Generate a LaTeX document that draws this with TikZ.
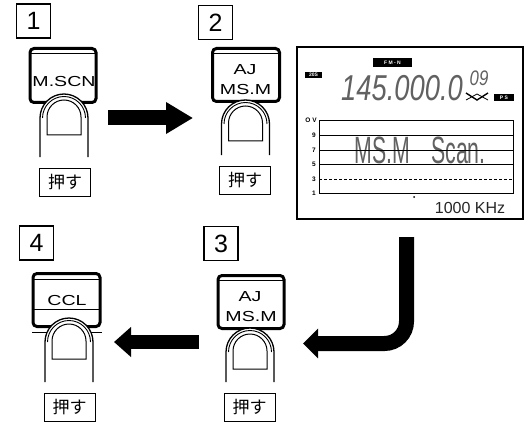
\documentclass[tikz,border=0pt]{standalone}
\usepackage{fontspec}
\setmainfont{Liberation Sans}
\newfontfamily\cjk{Noto Sans CJK JP}
\usetikzlibrary{arrows.meta}
\tikzset{
  stepbox/.style={draw, line width=1.1pt, minimum width=34pt, minimum height=34pt, inner sep=0pt, font=\fontsize{25}{25}\selectfont},
  pushbox/.style={draw, line width=1pt, minimum width=51pt, minimum height=28pt, inner sep=0pt, font=\cjk\fontsize{17}{17}\selectfont},
  keycap/.style={draw, line width=3pt, rounded corners=4pt, fill=white, inner sep=0pt},
  keytext/.style={transform shape, xscale=1.35, inner sep=0pt, font=\fontsize{14.5}{14.5}\selectfont},
  blockarrow/.style={line width=15pt, -{Triangle[length=27pt,width=30pt]}},
  tagbox/.style={fill=black, text=white, inner sep=0pt, font=\bfseries\fontsize{5}{5}\selectfont},
  scalenum/.style={inner sep=0pt, font=\bfseries\fontsize{6.5}{6.5}\selectfont},
  lcdtext/.style={inner sep=0pt, transform shape, text=black!62}
}
\begin{document}
\begin{tikzpicture}[x=1pt, y=1pt]
    \useasboundingbox (0,0) rectangle (529,-422);

    % Step numbers
    \node[stepbox] (step1) at (33.5,-21) {1};
    \node[stepbox] (step2) at (215.5,-22.5) {2};
    \node[stepbox] (step3) at (221,-243.5) {3};
    \node[stepbox] (step4) at (36.5,-243) {4};

    % Keys
    \node[keycap, minimum width=66pt, minimum height=54pt] (key1) at (63,-75.5) {};
    \node[keycap, minimum width=67pt, minimum height=53pt] (key2) at (246,-75) {};
    \node[keycap, minimum width=66pt, minimum height=53pt] (key3) at (251,-302) {};
    \node[keycap, minimum width=67pt, minimum height=53pt] (key4) at (66.5,-300) {};

    \draw (31,-53) -- (95,-53);
    \draw (214,-53) -- (278,-53);
    \draw (219,-280) -- (283,-280);
    \draw[line width=0.8pt] (34,-279) -- (99,-279);
    \draw[line width=0.8pt] (34,-309) -- (99,-309);
    \draw (32,-332) -- (102,-332);

    \node[keytext] (name1) at (64,-82) {M.SCN};
    \node[keytext] (name2a) at (245,-70) {AJ};
    \node[keytext] (name2b) at (245.5,-90) {MS.M};
    \node[keytext] (name3a) at (250,-297) {AJ};
    \node[keytext] (name3b) at (251,-317) {MS.M};
    \node[keytext] (name4) at (67,-301) {CCL};

    % Fingers
    \foreach \x/\y/\z in {64/-94/-157, 245.5/-100/-155, 250/-328/-382, 69/-318/-382}
    {
      \fill[white] (\x-24,\z) -- (\x-24,\y-24) arc (180:0:24) -- (\x+24,\z) -- cycle;
      \draw[line width=1.3pt] (\x-24,\z) -- (\x-24,\y-24) arc (180:0:24) -- (\x+24,\z);
      \draw[line width=0.9pt] (\x-21.5,\y-24) arc (180:0:21.5);
      \draw[line width=1pt] (\x-17,\y-41) -- (\x-17,\y-23) arc (180:0:17) -- (\x+17,\y-41) -- cycle;
    }

    % Labels
    \node[pushbox] (push1) at (65,-182) {押す};
    \node[pushbox] (push2) at (245,-180) {押す};
    \node[pushbox] (push3) at (249.5,-407.5) {押す};
    \node[pushbox] (push4) at (69.5,-407.5) {押す};

    % Block arrows
    \coordinate (from1) at (108,-118);
    \coordinate (to1) at (193,-118);
    \coordinate (from2) at (406.5,-237);
    \coordinate (bend2) at (406.5,-343.5);
    \coordinate (to2) at (303,-343.5);
    \coordinate (from3) at (199,-342);
    \coordinate (to3) at (114,-342);
    \draw[blockarrow] (from1) -- (to1);
    \draw[line width=15pt, rounded corners=22pt, -{Triangle[length=15pt,width=29pt]}] (from2) -- (bend2) -- (to2);
    \draw[blockarrow, line width=14pt, -{Triangle[length=17pt,width=29pt]}] (from3) -- (to3);

    % Display
    \node[draw, line width=1.1pt, minimum width=226pt, minimum height=172pt] (lcd) at (410,-133) {};
    \node[tagbox, minimum width=39pt, minimum height=9pt] (mode) at (392.5,-63) {F M - N};
    \node[tagbox, minimum width=17pt, minimum height=6pt] (tone) at (313.5,-75) {20S};
    \node[tagbox, minimum width=20pt, minimum height=7pt] (ps) at (504,-98) {P S};
    \node[lcdtext, xscale=0.76, font=\itshape\fontsize{36}{36}\selectfont] (freq) at (402,-88) {145.000.0};
    \node[lcdtext, xscale=0.8, font=\itshape\fontsize{21}{21}\selectfont] (memch) at (479,-78) {09};
    \draw[line width=1.4pt] (466,-93) -- (477,-100) -- (488,-93);
    \draw[line width=0.8pt] (466,-100) -- (477,-94) -- (488,-100);

    % Chart
    \node[lcdtext, xscale=0.56, font=\fontsize{38}{38}\selectfont] (msg) at (420,-150) {MS.M\hspace{38pt}Scan.};
    \draw[line width=0.9pt] (319,-120) rectangle (513,-193);
    \foreach \y/\n in {-135/9, -150/7, -164/5, -193/1}
    {
      \draw[line width=0.9pt] (319,\y) -- (513,\y);
      \node[scalenum] at (314,\y) {\n};
    }
    \draw[line width=0.9pt, densely dashed] (319,-179) -- (513,-179);
    \node[scalenum] (three) at (314,-179) {3};
    \node[scalenum] (zerov) at (311,-120) {O V};
    \fill (414,-197) circle (1pt);
    \node[inner sep=0pt, text=black!85, font=\fontsize{16}{16}\selectfont] (span) at (470,-208) {1000 KHz};

\end{tikzpicture}
\end{document}
